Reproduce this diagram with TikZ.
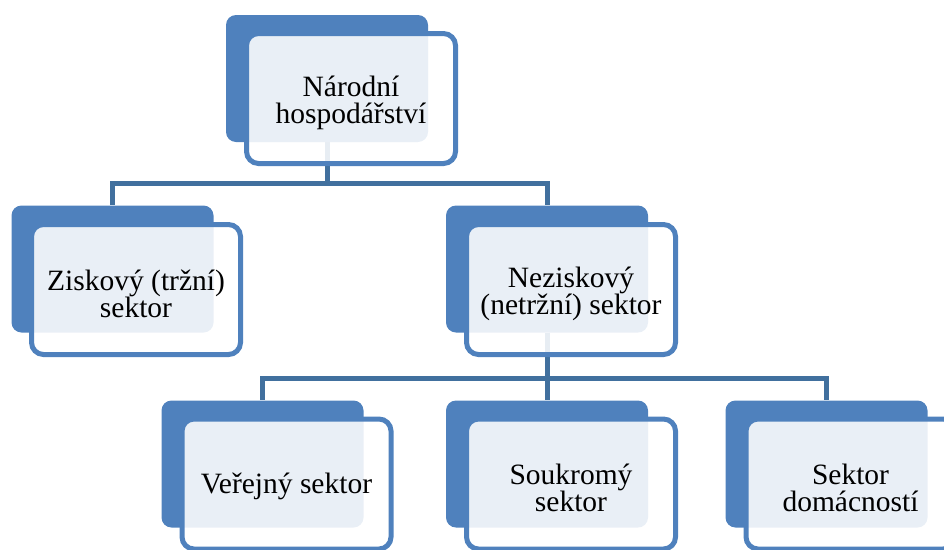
\documentclass[tikz,border=0pt]{standalone}
\usepackage{fontspec}
\setmainfont{Liberation Serif}
\usetikzlibrary{backgrounds}
\definecolor{accent}{HTML}{4F81BD}
\definecolor{connblue}{HTML}{41709E}
\begin{document}
\begin{tikzpicture}[x=1pt,y=-1pt,
  backbox/.style={rectangle, rounded corners=10pt, fill=accent, minimum width=202pt, minimum height=127pt, inner sep=0pt},
  frontbox/.style={rectangle, rounded corners=12pt, draw=accent, line width=5pt, fill=white, fill opacity=0.88, draw opacity=1, minimum width=209pt, minimum height=130pt, inner sep=0pt},
  boxtext/.style={align=center, inner sep=0pt, font=\fontsize{29.5}{27}\selectfont},
  link/.style={draw=connblue, line width=5pt}]
\useasboundingbox (0,0) rectangle (944,549);
\clip (0,0) rectangle (944,549);
% back boxes
\node[backbox] (b1) at (327,78.5) {};
\node[backbox] (b2) at (112.5,269) {};
\node[backbox] (b3) at (547,269) {};
\node[backbox] (b4) at (262.5,464) {};
\node[backbox] (b5) at (547,464) {};
\node[backbox] (b6) at (826.5,464) {};
% front boxes
\node[frontbox] (f1) at (351,98.5) {};
\node[frontbox] (f2) at (136,289.5) {};
\node[frontbox] (f3) at (571,289.5) {};
\node[frontbox] (f4) at (286.5,484) {};
\node[frontbox] (f5) at (571,484) {};
\node[frontbox] (f6) at (850.5,484) {};
% texts
\node[boxtext] (t1) at ([yshift=-4pt]f1.center) {Národní\\hospodářství};
\node[boxtext] (t2) at ([yshift=-4pt]f2.center) {Ziskový (tržní)\\sektor};
\node[boxtext] (t3) at ([yshift=-4pt]f3.center) {Neziskový\\(netržní) sektor};
\node[boxtext] (t4) at ([yshift=-2pt]f4.center) {Veřejný sektor};
\node[boxtext] (t5) at ([yshift=-4pt]f5.center) {Soukromý\\sektor};
\node[boxtext] (t6) at ([yshift=-4pt]f6.center) {Sektor\\domácností};
% connectors
\begin{scope}[on background layer]
\draw[link] (b1.south) -- ++(0,41.5) -| (b2.north);
\draw[link] (b1.south) -- ++(0,41.5) -| (b3.north);
\draw[link] (b3.south) -- ++(0,46) -| (b4.north);
\draw[link] (b3.south) -- (b5.north);
\draw[link] (b3.south) -- ++(0,46) -| (b6.north);
\end{scope}
\end{tikzpicture}
\end{document}
